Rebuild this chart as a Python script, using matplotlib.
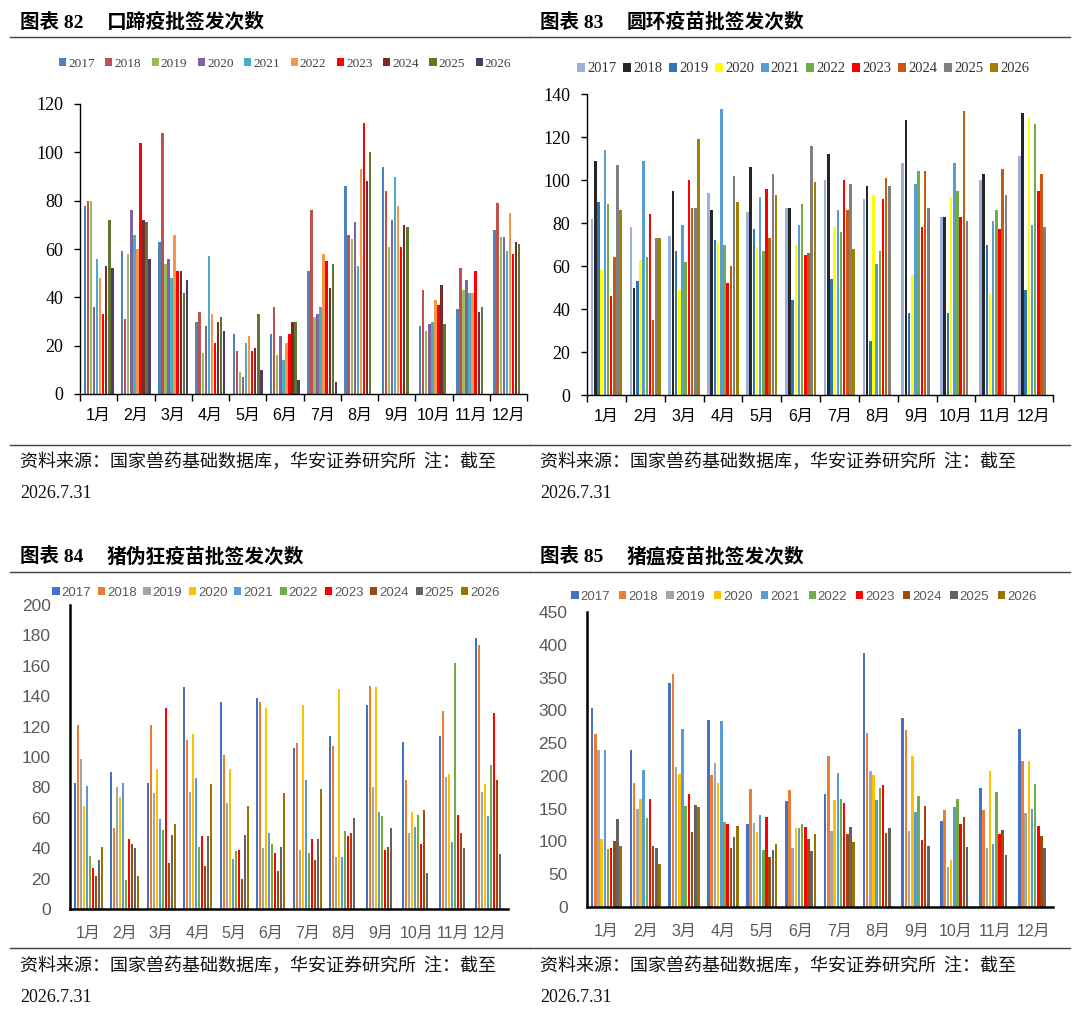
import matplotlib

matplotlib.use("Agg")
import matplotlib.pyplot as plt
import numpy as np

plt.rcParams["font.family"] = ["Liberation Serif", "Noto Sans CJK SC", "DejaVu Sans"]

W, H = 1080, 1015

months = [f"{m}月" for m in range(1, 13)]
years = [str(y) for y in range(2017, 2027)]
NA = np.nan

# 图表82 口蹄疫 (rows = 2017..2026, cols = 1..12月)
fmd = [
    [78, 59, 63, 30, 25, 25, 51, 86, 94, 28, 35, 68],
    [80, 31, 108, 34, 18, 36, 76, 66, 84, 43, 52, 79],
    [80, 58, 54, 17, 9, 16, 32, 64, 61, 26, 43, 65],
    [36, 76, 56, 28, 7, 24, 33, 71, 72, 29, 47, 65],
    [56, 66, 48, 57, 21, 14, 36, 53, 90, 30, 42, 59],
    [48, 60, 66, 33, 24, 21, 58, 93, 78, 39, 42, 75],
    [33, 104, 51, 21, 18, 25, 55, 112, 61, 37, 51, 58],
    [53, 72, 51, 30, 19, 30, 44, 88, 70, 45, 34, 63],
    [72, 71, 42, 32, 33, 30, 54, 100, 69, 29, 36, 62],
    [52, 56, 47, 26, 10, 6, 5, NA, NA, NA, NA, NA],
]

# 图表83 圆环疫苗
pcv = [
    [82, 78, 74, 94, 85, 87, 100, 91, 108, 83, 100, 111],
    [109, 50, 95, 86, 106, 87, 112, 97, 128, 83, 103, 131],
    [90, 53, 67, 72, 77, 44, 54, 25, 38, 38, 70, 49],
    [58, 63, 49, 71, 69, 70, 78, 93, 56, 92, 47, 129],
    [114, 109, 79, 133, 92, 79, 86, 61, 98, 108, 81, 79],
    [89, 64, 62, 70, 67, 89, 76, 67, 104, 95, 86, 126],
    [46, 84, 100, 52, 96, 65, 100, 91, 78, 83, 77, 95],
    [64, 35, 87, 60, 73, 66, 86, 101, 104, 132, 105, 103],
    [107, 73, 87, 102, 103, 116, 98, 97, 87, 81, 93, 78],
    [86, 73, 119, 90, 93, 99, 68, NA, NA, NA, NA, NA],
]

# 图表84 猪伪狂疫苗
prv = [
    [83, 90, 83, 146, 136, 139, 106, 114, 134, 110, 114, 178],
    [121, 53, 121, 111, 101, 136, 109, 107, 147, 85, 130, 174],
    [99, 80, 76, 77, 70, 40, 39, 34, 80, 50, 87, 77],
    [68, 74, 92, 115, 92, 132, 134, 145, 146, 64, 89, 82],
    [81, 83, 59, 86, 33, 50, 85, 34, 64, 54, 44, 61],
    [35, 19, 52, 41, 38, 43, 37, 51, 61, 62, 162, 95],
    [27, 46, 132, 48, 39, 37, 46, 48, 39, 43, 62, 129],
    [22, 43, 30, 28, 20, 25, 32, 50, 41, 65, 50, 85],
    [32, 40, 49, 48, 49, 41, 46, 60, 53, 24, 40, 36],
    [41, 22, 56, 82, 68, 76, 79, NA, NA, NA, NA, NA],
]

# 图表85 猪瘟疫苗
csf = [
    [304, 240, 341, 285, 126, 162, 172, 388, 288, 131, 181, 271],
    [264, 189, 355, 201, 180, 179, 230, 265, 270, 148, 148, 223],
    [240, 150, 214, 219, 128, 90, 116, 208, 116, 61, 90, 144],
    [103, 165, 203, 189, 114, 120, 163, 201, 230, 71, 207, 223],
    [239, 209, 271, 284, 140, 120, 205, 163, 145, 152, 96, 150],
    [88, 136, 154, 129, 87, 127, 164, 182, 170, 165, 176, 187],
    [90, 164, 172, 126, 137, 122, 158, 186, 102, 126, 112, 123],
    [100, 93, 114, 90, 77, 104, 112, 113, 154, 137, 118, 108],
    [134, 90, 156, 107, 87, 86, 122, 121, 93, 92, 80, 90],
    [93, 65, 152, 124, 96, 112, 99, NA, NA, NA, NA, NA],
]

colors_82 = ["#4F81BD", "#C0504D", "#9BBB59", "#8064A2", "#4BACC6",
             "#F79646", "#FF0000", "#772C2A", "#5F7530", "#4D3B62"]
colors_83 = ["#9DB0DD", "#262626", "#2E75B6", "#FFFF00", "#5B9BD5",
             "#70AD47", "#FF0000", "#C55A11", "#7F7F7F", "#A08000"]
colors_84 = ["#4472C4", "#ED7D31", "#A5A5A5", "#FFC000", "#5B9BD5",
             "#70AD47", "#FF0000", "#9E480E", "#636363", "#997300"]

SERIF = ["Liberation Serif", "Noto Sans CJK SC"]
SANS = ["Liberation Sans", "Noto Sans CJK SC"]
CJK = ["Noto Sans CJK SC", "DejaVu Sans"]


def px_axes(fig, left, right, top, bottom):
    return fig.add_axes([left / W, 1 - bottom / H, (right - left) / W, (bottom - top) / H])


def draw_bars(ax, data, colors):
    x = np.arange(12)
    slot = 0.082
    for i, (row, c) in enumerate(zip(data, colors)):
        ax.bar(x + (i - 4.5) * slot, row, width=slot * 0.8, color=c, linewidth=0)
    ax.set_xlim(-0.5, 11.5)


def style_office(ax, ymax, step):
    # 图表82/83 style: thin axes, serif numbers, outward ticks
    ax.set_ylim(0, ymax)
    ax.set_yticks(np.arange(0, ymax + 1, step))
    for s in ("top", "right"):
        ax.spines[s].set_visible(False)
    for s in ("left", "bottom"):
        ax.spines[s].set_linewidth(1.0)
        ax.spines[s].set_color("black")
    ax.set_xticks(np.arange(-0.5, 12, 1))
    ax.set_xticklabels([])
    ax.set_xticks(np.arange(12), minor=True)
    ax.set_xticklabels(months, minor=True, fontsize=11.5, family=SANS)
    ax.tick_params(axis="x", which="major", direction="out", length=5, width=1)
    ax.tick_params(axis="x", which="minor", length=0, pad=10)
    ax.tick_params(axis="y", direction="out", length=4, width=1, labelsize=13, pad=8)
    for t in ax.get_yticklabels():
        t.set_family(SERIF)


def style_wps(ax, ymax, step):
    # 图表84/85 style: thick axes, grey sans labels, no ticks
    ax.set_ylim(0, ymax)
    ax.set_yticks(np.arange(0, ymax + 1, step))
    for s in ("top", "right"):
        ax.spines[s].set_visible(False)
    for s in ("left", "bottom"):
        ax.spines[s].set_linewidth(1.8)
        ax.spines[s].set_color("black")
    ax.set_xticks(np.arange(12))
    ax.set_xticklabels(months, fontsize=11.5, family=SANS, color="#595959")
    ax.tick_params(axis="both", length=0)
    ax.tick_params(axis="x", pad=12)
    ax.tick_params(axis="y", labelsize=12.5, labelcolor="#595959", pad=14)
    for t in ax.get_yticklabels():
        t.set_family(SANS)


def add_legend(fig, ax, cx, cy, family, color, spacing, size=9.5):
    leg = fig.legend(ax.containers, years, loc="center", bbox_to_anchor=(cx / W, 1 - cy / H),
                     ncol=10, frameon=False, handlelength=0.55, handleheight=0.55,
                     handletextpad=0.15, columnspacing=spacing,
                     prop={"family": family, "size": size})
    for t in leg.get_texts():
        t.set_color(color)


def header(fig, x0, x1, y_title, y_line, text):
    fig.text(x0 / W, 1 - y_title / H, "图表 " + text[0], fontsize=14, fontweight="bold",
             family=["Liberation Serif", "Noto Sans CJK SC"], va="center")
    fig.text((x0 + 87) / W, 1 - y_title / H, text[1], fontsize=14.2, fontweight="bold",
             family=CJK, va="center")
    fig.add_artist(plt.Line2D([(x0 - 10) / W, x1 / W], [1 - y_line / H] * 2,
                              color="#404040", lw=1.0))


def footer(fig, x0, x1, y_line, y1, y2):
    fig.add_artist(plt.Line2D([(x0 - 10) / W, x1 / W], [1 - y_line / H] * 2,
                              color="#404040", lw=1.0))
    fig.text(x0 / W, 1 - y1 / H, "资料来源：国家兽药基础数据库，华安证券研究所  注：截至",
             fontsize=13, family=CJK, va="center", color="#111111")
    fig.text(x0 / W, 1 - y2 / H, "2026.7.31", fontsize=13, family=SERIF, va="center",
             color="#111111")


fig = plt.figure(figsize=(W / 100, H / 100), dpi=100)

# panel 82
ax1 = px_axes(fig, 80, 527, 104, 394)
draw_bars(ax1, fmd, colors_82)
style_office(ax1, 120, 20)
add_legend(fig, ax1, 285, 64, SERIF, "#404040", 0.8)
header(fig, 20, 530, 22, 37, ("82", "口蹄疫批签发次数"))
footer(fig, 20, 530, 445, 462, 494)

# panel 83
ax2 = px_axes(fig, 587, 1053, 94, 395)
draw_bars(ax2, pcv, colors_83)
style_office(ax2, 140, 20)
add_legend(fig, ax2, 803, 69, SERIF, "#333333", 0.45, size=10.5)
header(fig, 540, 1070, 22, 37, ("83", "圆环疫苗批签发次数"))
footer(fig, 540, 1070, 445, 462, 494)

# panel 84
ax3 = px_axes(fig, 70, 508, 605, 909)
draw_bars(ax3, prv, colors_84)
style_wps(ax3, 200, 20)
add_legend(fig, ax3, 276, 593, SANS, "#595959", 0.5)
header(fig, 20, 530, 557, 572, ("84", "猪伪狂疫苗批签发次数"))
footer(fig, 20, 530, 948, 966, 998)

# panel 85
ax4 = px_axes(fig, 587, 1053, 612, 907)
draw_bars(ax4, csf, colors_84)
style_wps(ax4, 450, 50)
add_legend(fig, ax4, 804, 597, SANS, "#595959", 0.65)
header(fig, 540, 1070, 557, 572, ("85", "猪瘟疫苗批签发次数"))
footer(fig, 540, 1070, 948, 966, 998)

fig.savefig("out.png", dpi=100, facecolor="white")
